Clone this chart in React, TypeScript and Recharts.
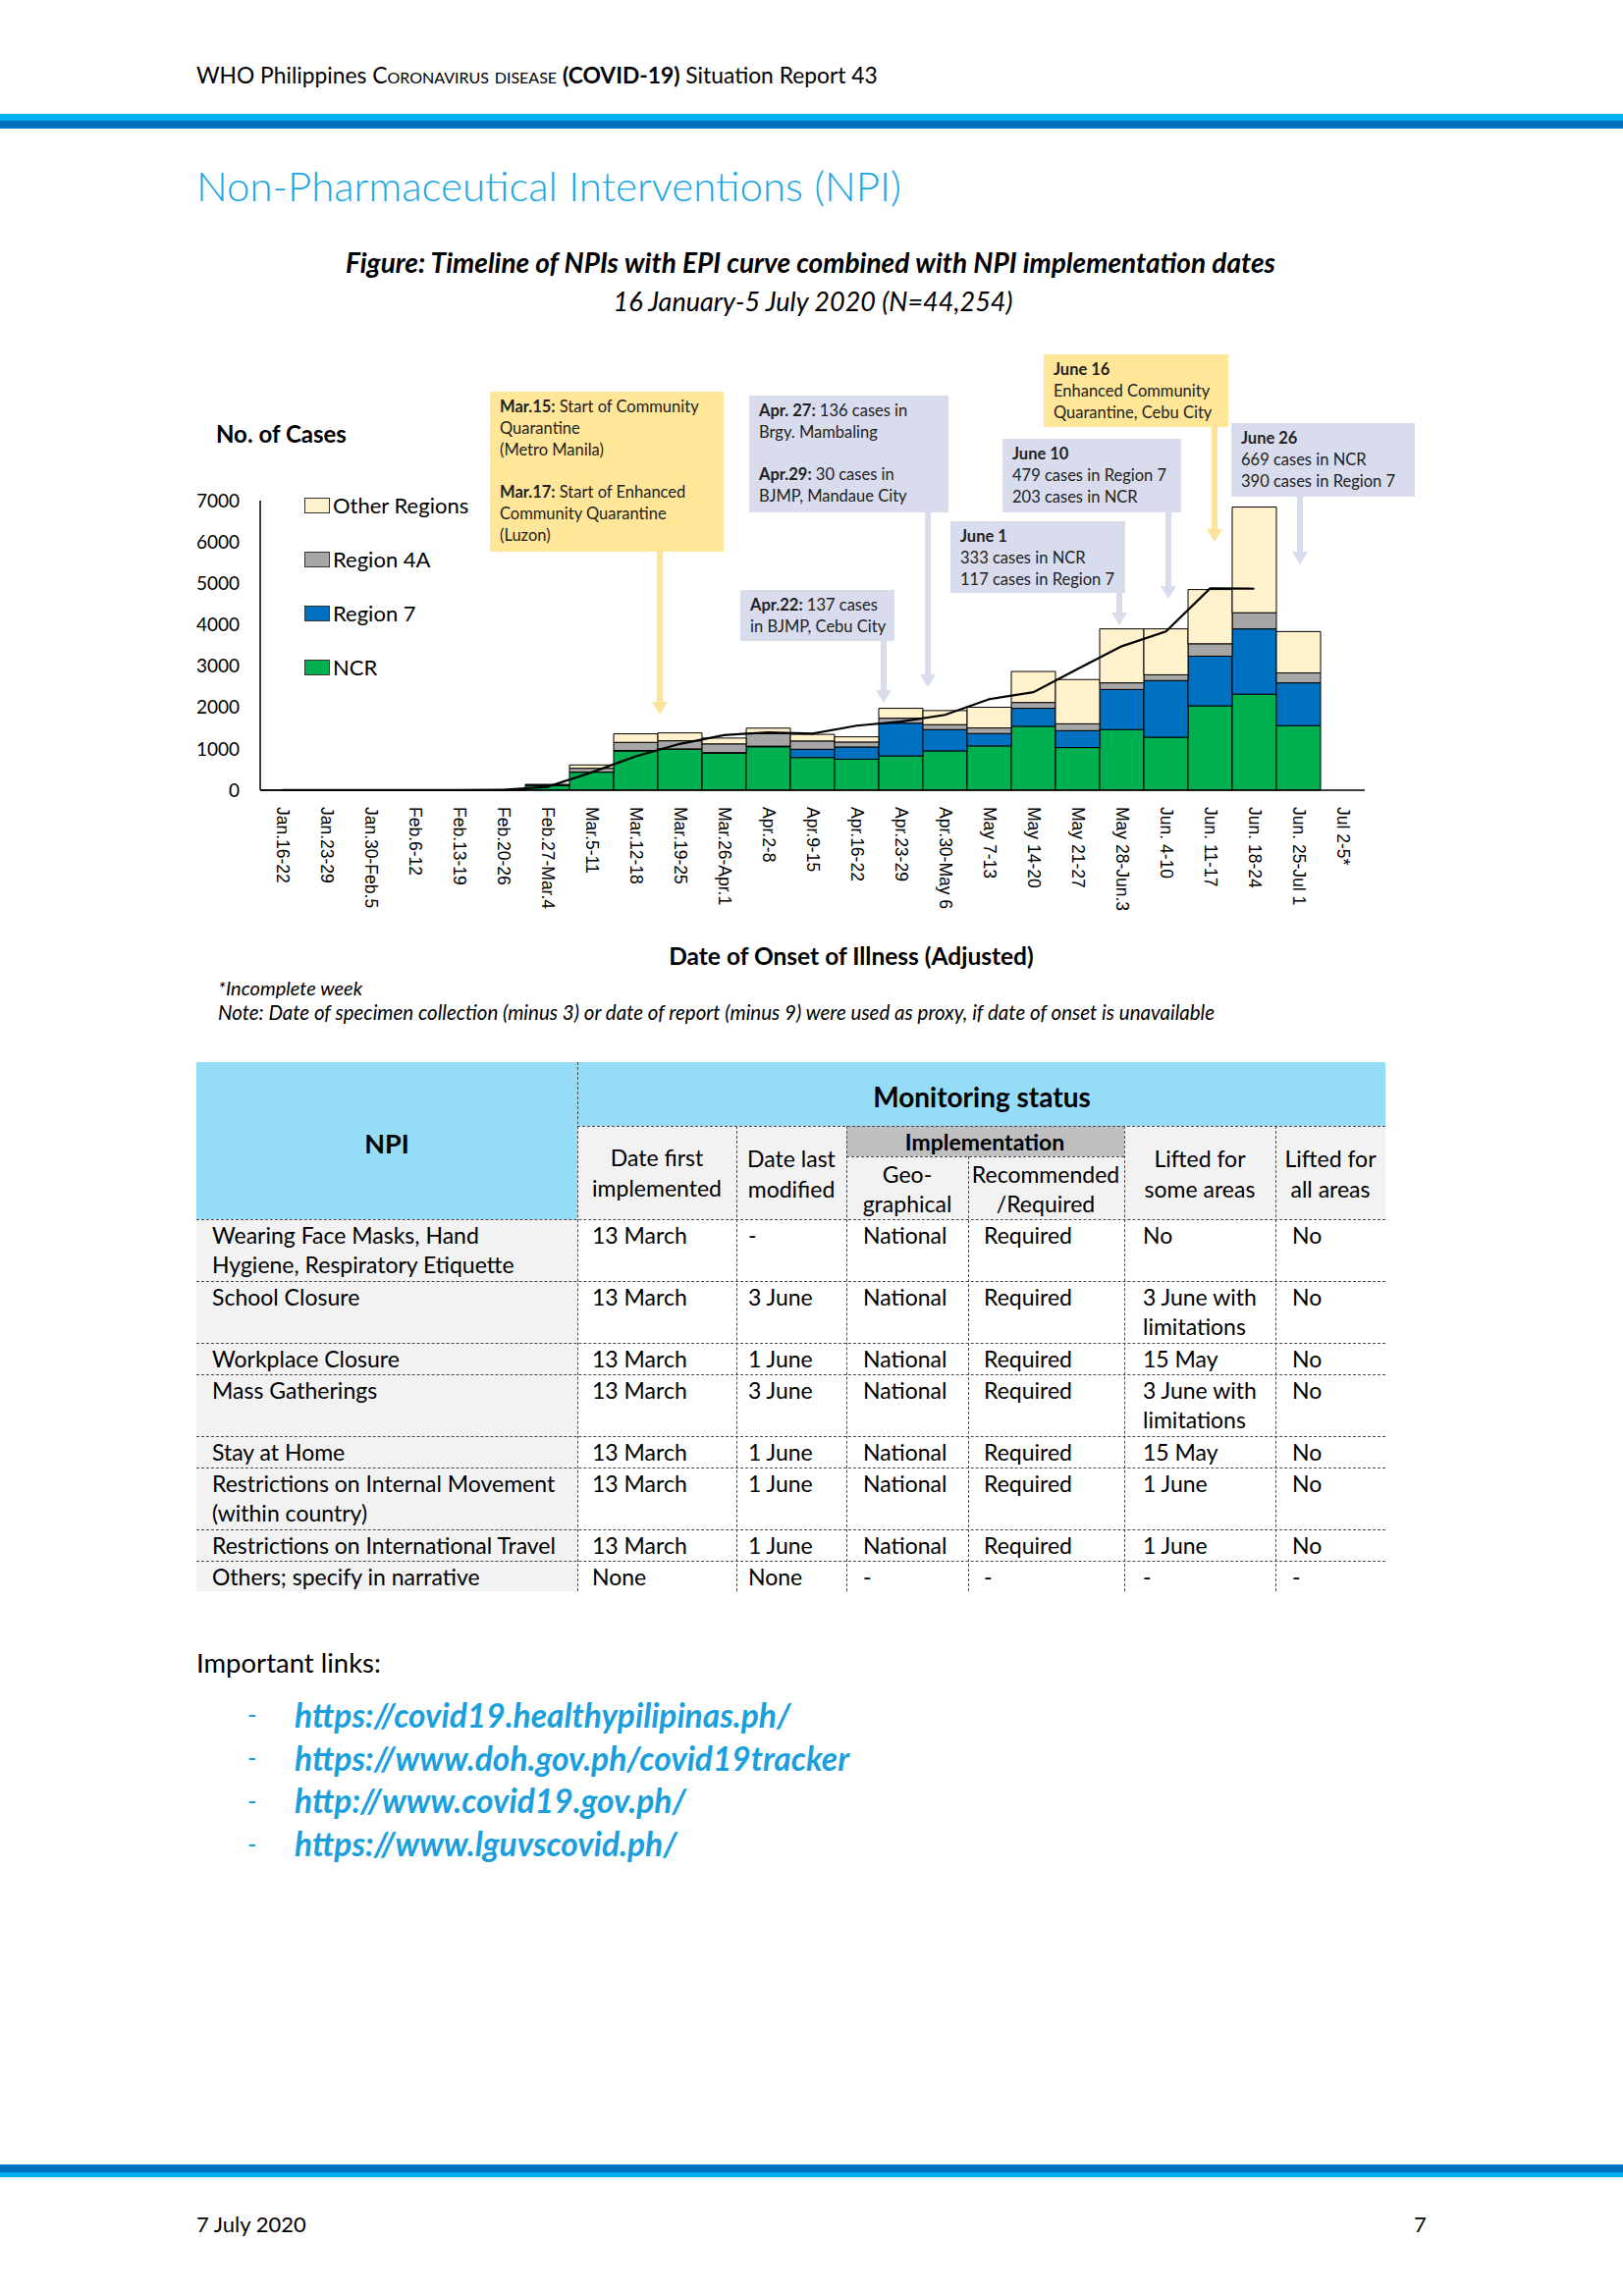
import React from 'react';
import { ComposedChart, Bar, Line, XAxis, YAxis } from 'recharts';

// ---------- chart data ----------
const weeks = [
  'Jan.16-22', 'Jan.23-29', 'Jan.30-Feb.5', 'Feb.6-12', 'Feb.13-19', 'Feb.20-26', 'Feb.27-Mar.4',
  'Mar.5-11', 'Mar.12-18', 'Mar.19-25', 'Mar.26-Apr.1', 'Apr.2-8', 'Apr.9-15', 'Apr.16-22',
  'Apr.23-29', 'Apr.30-May 6', 'May 7-13', 'May 14-20', 'May 21-27', 'May 28-Jun.3',
  'Jun. 4-10', 'Jun. 11-17', 'Jun. 18-24', 'Jun. 25-Jul 1', 'Jul 2-5*',
];
const ncr = [3, 1, 2, 0, 0, 5, 110, 435, 949, 989, 895, 1050, 790, 750, 830, 950, 1070, 1545, 1030, 1465, 1280, 2040, 2320, 1560, 0];
const region7 = [0, 0, 0, 0, 0, 0, 2, 5, 12, 10, 15, 15, 200, 295, 790, 515, 300, 435, 410, 970, 1370, 1200, 1580, 1035, 0];
const region4A = [0, 0, 0, 0, 0, 1, 15, 90, 196, 196, 210, 300, 200, 120, 120, 120, 135, 140, 165, 160, 140, 300, 390, 240, 0];
const otherRegions = [0, 0, 1, 0, 0, 2, 15, 80, 206, 190, 140, 135, 160, 125, 240, 340, 500, 750, 1070, 1305, 1110, 1310, 2555, 1000, 0];
const trend: (number | null)[] = [2, 2, 2, 1, 1, 10, 80, 430, 820, 1120, 1330, 1400, 1369, 1560, 1660, 1820, 2200, 2370, 2930, 3480, 3840, 4880, 4870, null, null];
const yTicks = [0, 1000, 2000, 3000, 4000, 5000, 6000, 7000];

const series = [
  { key: 'ncr', name: 'NCR', color: '#00B050' },
  { key: 'region7', name: 'Region 7', color: '#0070C0' },
  { key: 'region4A', name: 'Region 4A', color: '#A6A6A6' },
  { key: 'other', name: 'Other Regions', color: '#FFF2CC' },
];

const chartData = weeks.map((w, i) => ({
  week: w,
  ncr: ncr[i],
  region7: region7[i],
  region4A: region4A[i],
  other: otherRegions[i],
  trend: trend[i],
}));

// ---------- table data ----------
const npiNames = [
  'Wearing Face Masks, Hand\nHygiene, Respiratory Etiquette',
  'School Closure',
  'Workplace Closure',
  'Mass Gatherings',
  'Stay at Home',
  'Restrictions on Internal Movement\n(within country)',
  'Restrictions on International Travel',
  'Others; specify in narrative',
];
const dateFirst = ['13 March', '13 March', '13 March', '13 March', '13 March', '13 March', '13 March', 'None'];
const dateLast = ['-', '3 June', '1 June', '3 June', '1 June', '1 June', '1 June', 'None'];
const geographical = ['National', 'National', 'National', 'National', 'National', 'National', 'National', '-'];
const recommended = ['Required', 'Required', 'Required', 'Required', 'Required', 'Required', 'Required', '-'];
const liftedSome = ['No', '3 June with\nlimitations', '15 May', '3 June with\nlimitations', '15 May', '1 June', '1 June', '-'];
const liftedAll = ['No', 'No', 'No', 'No', 'No', 'No', 'No', '-'];

const links = [
  'https://covid19.healthypilipinas.ph/',
  'https://www.doh.gov.ph/covid19tracker',
  'http://www.covid19.gov.ph/',
  'https://www.lguvscovid.ph/',
];

// ---------- annotations ----------
type Seg = { b?: string; t: string };
const callouts: { x: number; y: number; w: number; h: number; yellow: boolean; ax: number; tip: number; lines: Seg[] }[] = [
  { x: 499, y: 399, w: 238, h: 163, yellow: true, ax: 672, tip: 728, lines: [
    { b: 'Mar.15:', t: ' Start of Community' }, { t: 'Quarantine' }, { t: '(Metro Manila)' }, { t: '' },
    { b: 'Mar.17:', t: ' Start of Enhanced' }, { t: 'Community Quarantine' }, { t: '(Luzon)' } ] },
  { x: 763, y: 403, w: 203, h: 119, yellow: false, ax: 945, tip: 700, lines: [
    { b: 'Apr. 27:', t: ' 136 cases in' }, { t: 'Brgy. Mambaling' }, { t: '' },
    { b: 'Apr.29:', t: ' 30 cases in' }, { t: 'BJMP, Mandaue City' } ] },
  { x: 754, y: 601, w: 157, h: 52, yellow: false, ax: 900, tip: 716, lines: [
    { b: 'Apr.22:', t: ' 137 cases' }, { t: 'in BJMP, Cebu City' } ] },
  { x: 968, y: 531, w: 178, h: 73, yellow: false, ax: 1140, tip: 637, lines: [
    { b: 'June 1', t: '' }, { t: '333 cases in NCR' }, { t: '117 cases in Region 7' } ] },
  { x: 1021, y: 447, w: 182, h: 75, yellow: false, ax: 1190, tip: 610, lines: [
    { b: 'June 10', t: '' }, { t: '479 cases in Region 7' }, { t: '203 cases in NCR' } ] },
  { x: 1063, y: 361, w: 188, h: 74, yellow: true, ax: 1237, tip: 552, lines: [
    { b: 'June 16', t: '' }, { t: 'Enhanced Community' }, { t: 'Quarantine, Cebu City' } ] },
  { x: 1254, y: 431, w: 187, h: 75, yellow: false, ax: 1324, tip: 575, lines: [
    { b: 'June 26', t: '' }, { t: '669 cases in NCR' }, { t: '390 cases in Region 7' } ] },
];

const FONT = 'Lato, "Open Sans", sans-serif';

const Txt = ({ x, y, size, children, style }: { x: number; y: number; size: number; children: React.ReactNode; style?: React.CSSProperties }) => (
  <div style={{ position: 'absolute', left: x, top: y - size * 0.6, fontSize: size, lineHeight: `${size * 1.2}px`, whiteSpace: 'nowrap', ...style }}>
    {children}
  </div>
);

const XTick = (props: any) => {
  const { x, y, payload } = props;
  return (
    <text transform={`translate(${x},${y}) rotate(90)`} x={0} y={0} textAnchor="start" dominantBaseline="central"
      fontFamily='"Liberation Sans", Arial, sans-serif' fontSize={17.5} fill="#000">
      {payload.value}
    </text>
  );
};

const colX = [200, 588, 750, 862, 986, 1145, 1299, 1411];
const rowY = [1242, 1305, 1368, 1400, 1463, 1495, 1558, 1590, 1621];
const padL = [16, 15, 12, 17, 16, 19, 17];
const DASH = '1px dashed #4a4a4a';
const BODY_SIZE = 23;

function Table() {
  const cols = [npiNames, dateFirst, dateLast, geographical, recommended, liftedSome, liftedAll];
  const hdrBlue = '#97DCF6';
  const cells: React.ReactNode[] = [];
  cells.push(<div key="bg-npi" style={{ position: 'absolute', left: 200, top: 1082, width: 388, height: 160, background: hdrBlue }} />);
  cells.push(<div key="bg-mon" style={{ position: 'absolute', left: 588, top: 1082, width: 823, height: 65, background: hdrBlue }} />);
  cells.push(<div key="bg-sub" style={{ position: 'absolute', left: 588, top: 1147, width: 823, height: 95, background: '#F2F2F2' }} />);
  cells.push(<div key="bg-impl" style={{ position: 'absolute', left: 862, top: 1147, width: 283, height: 31, background: '#BFBFBF' }} />);
  cells.push(<div key="bg-body" style={{ position: 'absolute', left: 200, top: 1242, width: 388, height: 379, background: '#F2F2F2' }} />);
  const center = (key: string, cx: number, cy: number, lines: string[], size: number, bold: boolean, lh: number) => (
    <div key={key} style={{ position: 'absolute', left: cx - 120, width: 240, top: cy - (lines.length * lh) / 2, textAlign: 'center', fontSize: size, lineHeight: `${lh}px`, fontWeight: bold ? 700 : 400, whiteSpace: 'nowrap' }}>
      {lines.map((l, i) => <div key={i}>{l}</div>)}
    </div>
  );
  cells.push(center('h-npi', 394, 1165, ['NPI'], 27, true, 32));
  cells.push(center('h-mon', 1000, 1117, ['Monitoring status'], 28, true, 34));
  cells.push(center('h-impl', 1003, 1163, ['Implementation'], 23, true, 30));
  cells.push(center('h-df', 669, 1195, ['Date first', 'implemented'], 23, false, 31));
  cells.push(center('h-dl', 806, 1196, ['Date last', 'modified'], 23, false, 31));
  cells.push(center('h-geo', 924, 1211, ['Geo-', 'graphical'], 23, false, 30));
  cells.push(center('h-rec', 1065, 1211, ['Recommended', '/Required'], 23, false, 30));
  cells.push(center('h-ls', 1222, 1196, ['Lifted for', 'some areas'], 23, false, 31));
  cells.push(center('h-la', 1355, 1196, ['Lifted for', 'all areas'], 23, false, 31));
  cols.forEach((col, c) => {
    col.forEach((v, r) => {
      cells.push(
        <div key={`b-${c}-${r}`} style={{ position: 'absolute', left: colX[c] + padL[c], top: rowY[r] + 1, fontSize: BODY_SIZE, lineHeight: '30px', whiteSpace: 'pre' }}>
          {v}
        </div>
      );
    });
  });
  const hl = (key: string, x1: number, x2: number, y: number) => (
    <div key={key} style={{ position: 'absolute', left: x1, top: y, width: x2 - x1, height: 0, borderTop: DASH }} />
  );
  const vl = (key: string, x: number, y1: number, y2: number) => (
    <div key={key} style={{ position: 'absolute', left: x, top: y1, width: 0, height: y2 - y1, borderLeft: DASH }} />
  );
  cells.push(hl('hl-mon', 588, 1411, 1147));
  cells.push(hl('hl-impl', 862, 1145, 1178));
  rowY.slice(0, 8).forEach((y, i) => cells.push(hl(`hl-r${i}`, 200, 1411, y)));
  cells.push(vl('vl-0', 588, 1082, 1621));
  [750, 862, 1145, 1299].forEach((x) => cells.push(vl(`vl-${x}`, x, 1147, 1621)));
  cells.push(vl('vl-986', 986, 1178, 1621));
  return <>{cells}</>;
}

export default function App() {
  return (
    <div style={{ position: 'absolute', left: 0, top: 0, width: 1653, height: 2339, background: '#fff', fontFamily: FONT, color: '#000', overflow: 'hidden' }}>
      {/* page header */}
      <Txt x={200} y={77} size={22.8}>
        WHO Philippines <span style={{ fontVariant: 'small-caps' }}>Coronavirus disease</span> <b>(COVID-19)</b> Situation Report 43
      </Txt>
      <div style={{ position: 'absolute', left: 0, top: 116, width: 1653, height: 7, background: '#00B0F0' }} />
      <div style={{ position: 'absolute', left: 0, top: 123, width: 1653, height: 8, background: '#0070C0' }} />

      <Txt x={200} y={189} size={42} style={{ color: '#18A6E3', fontWeight: 300 }}>Non-Pharmaceutical Interventions (NPI)</Txt>

      <div style={{ position: 'absolute', left: 0, width: 1651, top: 251, textAlign: 'center', fontSize: 28, lineHeight: '32px', fontWeight: 700, fontStyle: 'italic' }}>
        Figure: Timeline of NPIs with EPI curve combined with NPI implementation dates
      </div>
      <div style={{ position: 'absolute', left: 0, width: 1656, top: 291, textAlign: 'center', fontSize: 27, lineHeight: '32px', fontStyle: 'italic' }}>
        16 January-5 July 2020 (N=44,254)
      </div>

      {/* chart */}
      <Txt x={220} y={442} size={24} style={{ fontWeight: 700 }}>No. of Cases</Txt>
      <div style={{ position: 'absolute', left: 150, top: 480 }}>
        <ComposedChart width={1300} height={480} data={chartData} barCategoryGap={0} margin={{ top: 30, right: 60, bottom: 60, left: 55 }}>
          <XAxis dataKey="week" interval={0} tick={<XTick />} tickLine={false} tickMargin={11} height={95}
            axisLine={{ stroke: '#000', strokeWidth: 1.5 }} />
          <YAxis domain={[0, 7000]} ticks={yTicks} width={60} tickLine={false} tickMargin={15}
            axisLine={{ stroke: '#000', strokeWidth: 1.5 }} interval={0}
            tick={{ fontSize: 19, fill: '#000', fontFamily: FONT }} />
          {series.map((s) => (
            <Bar key={s.key} dataKey={s.key} name={s.name} stackId="cases" fill={s.color} stroke="#000" strokeWidth={1} isAnimationActive={false} />
          ))}
          <Line dataKey="trend" type="linear" stroke="#000" strokeWidth={2.2} dot={false} connectNulls={false} isAnimationActive={false} />
        </ComposedChart>
      </div>

      {/* legend */}
      {[...series].reverse().map((s, i) => (
        <div key={s.key} style={{ position: 'absolute', left: 310, top: 515 + i * 55 - 13, height: 26, display: 'flex', alignItems: 'center' }}>
          <div style={{ width: 24, height: 14, background: s.color, border: '1px solid #333', marginRight: 3 }} />
          <span style={{ fontSize: 22, lineHeight: '26px' }}>{s.name}</span>
        </div>
      ))}

      {/* callouts */}
      {callouts.map((c, i) => (
        <div key={`co-${i}`} style={{ position: 'absolute', left: c.x, top: c.y, width: c.w, height: c.h, background: c.yellow ? '#FFE699' : '#D9DCEC', boxSizing: 'border-box', padding: '5px 0 0 10px' }}>
          {c.lines.map((l, j) => (
            <div key={j} style={{ fontSize: 16.5, lineHeight: '21.8px', height: 21.8, whiteSpace: 'nowrap', color: '#222' }}>
              {l.b ? <b>{l.b}</b> : null}{l.t}
            </div>
          ))}
        </div>
      ))}
      <svg width={1653} height={2339} style={{ position: 'absolute', left: 0, top: 0, pointerEvents: 'none' }}>
        {callouts.map((c, i) => {
          const col = c.yellow ? '#FCE39A' : '#D9DCEC';
          const top = c.y + c.h;
          return (
            <g key={`ar-${i}`}>
              <rect x={c.ax - 3} y={top} width={6} height={c.tip - top - 12} fill={col} />
              <polygon points={`${c.ax - 8},${c.tip - 13} ${c.ax + 8},${c.tip - 13} ${c.ax},${c.tip}`} fill={col} />
            </g>
          );
        })}
      </svg>

      <div style={{ position: 'absolute', left: 567, width: 600, top: 959, textAlign: 'center', fontSize: 24.5, lineHeight: '30px', fontWeight: 700, whiteSpace: 'nowrap' }}>
        Date of Onset of Illness (Adjusted)
      </div>
      <Txt x={222} y={1006} size={20} style={{ fontStyle: 'italic' }}>*Incomplete week</Txt>
      <Txt x={222} y={1031} size={20.5} style={{ fontStyle: 'italic' }}>
        Note: Date of specimen collection (minus 3) or date of report (minus 9) were used as proxy, if date of onset is unavailable
      </Txt>

      <Table />

      {/* links */}
      <Txt x={200} y={1693} size={27.5}>Important links:</Txt>
      {links.map((l, i) => (
        <React.Fragment key={l}>
          <Txt x={252} y={1747 + i * 43.7} size={26} style={{ color: '#1A9FDC' }}>-</Txt>
          <Txt x={300} y={1747 + i * 43.7} size={33.5} style={{ color: '#1A9FDC', fontWeight: 700, fontStyle: 'italic' }}>{l}</Txt>
        </React.Fragment>
      ))}

      {/* footer */}
      <div style={{ position: 'absolute', left: 0, top: 2205, width: 1653, height: 8, background: '#0070C0' }} />
      <div style={{ position: 'absolute', left: 0, top: 2213, width: 1653, height: 5, background: '#00B0F0' }} />
      <Txt x={200} y={2266} size={22}>7 July 2020</Txt>
      <Txt x={1440} y={2266} size={22}>7</Txt>
    </div>
  );
}
